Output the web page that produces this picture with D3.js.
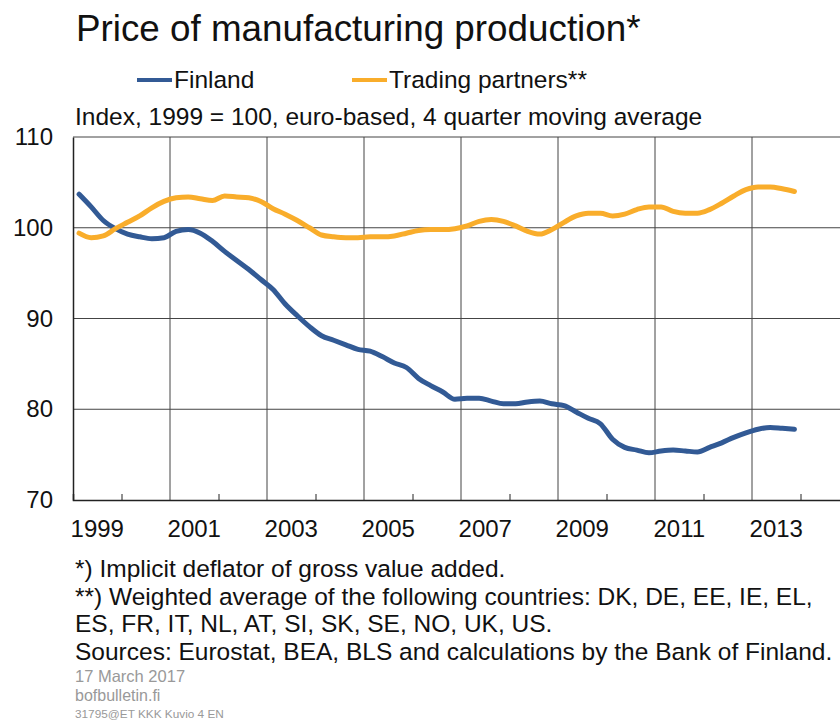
<!DOCTYPE html>
<html>
<head>
<meta charset="utf-8">
<script src="https://cdnjs.cloudflare.com/ajax/libs/d3/7.8.5/d3.min.js"></script>
<style>
  body { margin: 0; background: #fff; }
  svg { font-family: "Liberation Sans", Arial, sans-serif; }
</style>
</head>
<body>
<div id="chart"></div>
<script>
// Quarterly data, 1999Q1 .. 2013Q4 (4 quarter moving average)
var startYear = 1999;
var finland = [
  103.7, 102.3, 100.8, 99.9,
  99.3, 99.0, 98.8, 98.9,
  99.6, 99.8, 99.4, 98.5,
  97.4, 96.4, 95.4, 94.3,
  93.2, 91.6, 90.3, 89.1,
  88.1, 87.6, 87.1, 86.6,
  86.4, 85.8, 85.1, 84.6,
  83.4, 82.6, 81.9, 81.1,
  81.2, 81.2, 80.9, 80.6,
  80.6, 80.8, 80.9, 80.6,
  80.4, 79.7, 79.0, 78.4,
  76.7, 75.8, 75.5, 75.2,
  75.4, 75.5, 75.4, 75.3,
  75.8, 76.3, 76.9, 77.4,
  77.8, 78.0, 77.9, 77.8
];
var partners = [
  99.4, 98.9, 99.1, 99.9,
  100.6, 101.3, 102.2, 102.9,
  103.3, 103.4, 103.2, 103.0,
  103.5, 103.4, 103.3, 102.9,
  102.1, 101.5, 100.8, 100.0,
  99.2, 99.0, 98.9, 98.9,
  99.0, 99.0, 99.1, 99.4,
  99.7, 99.8, 99.8, 99.9,
  100.2, 100.7, 100.9, 100.7,
  100.2, 99.6, 99.3, 99.8,
  100.6, 101.3, 101.6, 101.6,
  101.3, 101.5, 102.0, 102.3,
  102.3, 101.8, 101.6, 101.6,
  102.0, 102.7, 103.5, 104.2,
  104.5, 104.5, 104.3, 104.0
];
var yTicks = [70, 80, 90, 100, 110];
var xLabels = [1999, 2001, 2003, 2005, 2007, 2009, 2011, 2013];
var minorTicks = [2000, 2002, 2004, 2006, 2008, 2010, 2012, 2014];
var seriesNames = ["Finland", "Trading partners**"];
var seriesColors = ["#325a95", "#f9ad2b"];
var notes = [
  "*) Implicit deflator of gross value added.",
  "**) Weighted average of the following countries: DK, DE, EE, IE, EL,",
  "ES, FR, IT, NL, AT, SI, SK, SE, NO, UK, US.",
  "Sources: Eurostat, BEA, BLS and calculations by the Bank of Finland."
];

var svgWidth = 840;
var svgHeight = 720;

var margin = { top: 137, left: 73 };
var width = 776;   // runs past the right edge, as in the original
var height = 363;

var svg = d3.select("#chart")
  .append("svg")
  .attr("width", svgWidth)
  .attr("height", svgHeight);

// title, legend, subtitle
svg.append("text")
  .attr("x", 76)
  .attr("y", 41)
  .attr("font-size", 36.8)
  .attr("fill", "#111")
  .text("Price of manufacturing production*");

var legendX = [137, 352];
seriesNames.forEach(function(name, i) {
  svg.append("line")
    .attr("x1", legendX[i]).attr("x2", legendX[i] + 35)
    .attr("y1", 80).attr("y2", 80)
    .attr("stroke", seriesColors[i])
    .attr("stroke-width", 4);
  svg.append("text")
    .attr("x", legendX[i] + 37)
    .attr("y", 88)
    .attr("font-size", 24.5)
    .attr("fill", "#111")
    .text(name);
});

svg.append("text")
  .attr("x", 75)
  .attr("y", 125)
  .attr("font-size", 24.5)
  .attr("fill", "#111")
  .text("Index, 1999 = 100, euro-based, 4 quarter moving average");

var chartGroup = svg.append("g")
  .attr("transform", `translate(${margin.left}, ${margin.top})`);

var xScale = d3.scaleLinear()
  .domain([1999, 2015])
  .range([0, width]);

var yScale = d3.scaleLinear()
  .domain([70, 110])
  .range([height, 0]);

// grid
chartGroup.selectAll(".hgrid")
  .data(yTicks.filter(d => d > 70))
  .enter()
  .append("line")
  .attr("x1", 0).attr("x2", width)
  .attr("y1", d => yScale(d)).attr("y2", d => yScale(d))
  .attr("stroke", "#444")
  .attr("stroke-width", 1);

chartGroup.selectAll(".vgrid")
  .data(xLabels.filter(d => d > 1999))
  .enter()
  .append("line")
  .attr("x1", d => xScale(d)).attr("x2", d => xScale(d))
  .attr("y1", 0).attr("y2", height)
  .attr("stroke", "#444")
  .attr("stroke-width", 1);

// axes
var leftAxis = d3.axisLeft(yScale)
  .tickValues(yTicks)
  .tickSize(0)
  .tickPadding(20);

var yAxis = chartGroup.append("g").call(leftAxis);
yAxis.select(".domain").attr("stroke", "#222").attr("stroke-width", 1.5);
yAxis.selectAll("text").attr("font-size", 24).attr("fill", "#111")
  .attr("font-family", "Liberation Sans, Arial, sans-serif");

var bottomAxis = d3.axisBottom(xScale)
  .tickValues(minorTicks)
  .tickSize(-6)
  .tickFormat("");

var xAxis = chartGroup.append("g")
  .attr("transform", `translate(0, ${height})`)
  .call(bottomAxis);
xAxis.select(".domain").attr("stroke", "#222").attr("stroke-width", 1.5);
xAxis.selectAll(".tick line").attr("stroke", "#222");

chartGroup.selectAll(".xlabel")
  .data(xLabels)
  .enter()
  .append("text")
  .attr("x", d => xScale(d + 0.5))
  .attr("y", height + 37)
  .attr("text-anchor", "middle")
  .attr("font-size", 24)
  .attr("fill", "#111")
  .text(d => d);

// series
var line = d3.line()
  .x((d, i) => xScale(startYear + 0.125 + i * 0.25))
  .y(d => yScale(d))
  .curve(d3.curveMonotoneX);

[finland, partners].forEach(function(values, i) {
  chartGroup.append("path")
    .datum(values)
    .attr("fill", "none")
    .attr("stroke", seriesColors[i])
    .attr("stroke-width", 5)
    .attr("stroke-linejoin", "round")
    .attr("stroke-linecap", "round")
    .attr("d", line);
});

// notes
svg.selectAll(".note")
  .data(notes)
  .enter()
  .append("text")
  .attr("x", 75)
  .attr("y", (d, i) => 577 + i * 27.5)
  .attr("font-size", 24.5)
  .attr("fill", "#111")
  .text(d => d);

svg.append("text").attr("x", 75).attr("y", 682).attr("font-size", 16.5)
  .attr("fill", "#999").text("17 March 2017");
svg.append("text").attr("x", 75).attr("y", 701).attr("font-size", 16)
  .attr("fill", "#999").text("bofbulletin.fi");
svg.append("text").attr("x", 75).attr("y", 718).attr("font-size", 11.8)
  .attr("fill", "#999").text("31795@ET KKK Kuvio 4 EN");
</script>
</body>
</html>
